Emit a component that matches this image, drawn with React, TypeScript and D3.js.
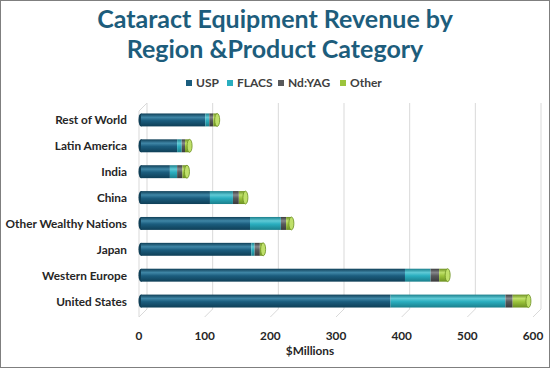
import React from 'react';
import * as d3 from 'd3';

const regions = ['Rest of World', 'Latin America', 'India', 'China', 'Other Wealthy Nations', 'Japan', 'Western Europe', 'United States'];
const seriesNames = ['USP', 'FLACS', 'Nd:YAG', 'Other'];
const usp = [98, 55, 44, 105, 166, 168, 402, 380];
const flacs = [6, 7, 11, 35, 47, 5, 39, 175];
const ndyag = [6, 5, 8, 9, 8, 8, 13, 11];
const other = [6, 7, 7, 10, 8, 5, 13, 24];
const xTicks = [0, 100, 200, 300, 400, 500, 600];

const colors = ['#1b5d7e', '#2aaebf', '#58595b', '#9cc43c'];
const lightColors = ['#3f86a6', '#5fcad6', '#85868a', '#bfe06a'];
const darkColors = ['#0f3f57', '#1b7f8c', '#3a3b3d', '#6c8f22'];

const W = 550;
const H = 368;
const DEPTH = 8;
const font = 'Lato, "Open Sans", sans-serif';

export default function App() {
  const values = [usp, flacs, ndyag, other];
  const x = d3.scaleLinear().domain([0, 600]).range([139, 533]);
  const y = d3.scaleBand().domain(regions).range([107, 314]).paddingInner(0.5).paddingOuter(0.25);
  const barShift = 2;
  const wallTop = 103;
  const floorBack = 309;
  const floorFront = 317;

  const stack = d3.stack<number>().keys([0, 1, 2, 3] as any).value((i, k) => values[k as any][i]);
  const stacked = stack(d3.range(regions.length));

  return (
    <svg width={W} height={H} style={{ position: 'absolute', left: 0, top: 0, display: 'block' }}>
      <defs>
        {colors.map((c, i) => (
          <linearGradient key={i} id={'g' + i} x1="0" y1="0" x2="0" y2="1">
            <stop offset="0" stopColor={darkColors[i]} />
            <stop offset="0.3" stopColor={lightColors[i]} />
            <stop offset="0.55" stopColor={c} />
            <stop offset="1" stopColor={darkColors[i]} />
          </linearGradient>
        ))}
      </defs>
      <rect x={0.5} y={0.5} width={W - 1} height={H - 1} fill="#fff" stroke="#7f7f7f" />

      <text x={W / 2} y={28} textAnchor="middle" fontFamily={font} fontWeight="bold" fontSize={25} fill="#1d5d7c">
        Cataract Equipment Revenue by
      </text>
      <text x={W / 2} y={58} textAnchor="middle" fontFamily={font} fontWeight="bold" fontSize={25} fill="#1d5d7c">
        Region &amp;Product Category
      </text>

      {/* legend */}
      {seriesNames.map((s, i) => {
        const lx = [186, 227, 278, 340][i];
        return (
          <g key={s}>
            <rect x={lx} y={80} width={6} height={6} fill={colors[i]} />
            <text x={lx + 10} y={87} fontFamily={font} fontWeight="bold" fontSize={12} fill="#404040">{s}</text>
          </g>
        );
      })}

      {/* 3D walls */}
      <g stroke="#d9d9d9" strokeWidth={1} fill="none">
        <line x1={x(0)} y1={wallTop + DEPTH} x2={x(0)} y2={floorFront} />
        <line x1={x(0)} y1={wallTop + DEPTH} x2={x(0) + DEPTH} y2={wallTop} />
        {xTicks.map(t => (
          <g key={t}>
            <line x1={x(t) + DEPTH} y1={wallTop} x2={x(t) + DEPTH} y2={floorBack} />
            <line x1={x(t) + DEPTH} y1={floorBack} x2={x(t)} y2={floorFront} />
          </g>
        ))}
      </g>

      {/* bars */}
      {regions.map((r, ri) => {
        const by = y(r)!;
        const bh = y.bandwidth();
        const total = stacked[3][ri][1];
        const endX = x(total) + barShift;
        return (
          <g key={r}>
            <ellipse cx={x(0) + barShift} cy={by + bh / 2} rx={2.5} ry={bh / 2} fill={darkColors[0]} />
            {stacked.map((layer, si) => {
              const x0 = x(layer[ri][0]) + barShift;
              const x1 = x(layer[ri][1]) + barShift;
              return <rect key={si} x={x0} y={by} width={Math.max(0, x1 - x0)} height={bh} fill={`url(#g${si})`} />;
            })}
            <ellipse cx={endX} cy={by + bh / 2} rx={2.5} ry={bh / 2} fill={lightColors[3]} stroke={darkColors[3]} strokeWidth={0.8} />
          </g>
        );
      })}

      {/* y labels */}
      {regions.map(r => (
        <text key={r} x={127} y={y(r)! + y.bandwidth() / 2 + 4.5} textAnchor="end" fontFamily={font} fontWeight="bold" fontSize={11.8} fill="#262626">
          {r}
        </text>
      ))}

      {/* x tick labels */}
      {xTicks.map(t => (
        <text key={t} x={x(t)} y={340} textAnchor="middle" fontFamily={font} fontWeight="bold" fontSize={11.8} fill="#262626">
          {t}
        </text>
      ))}
      <text x={310} y={355} textAnchor="middle" fontFamily={font} fontWeight="bold" fontSize={11.8} fill="#262626">
        $Millions
      </text>
    </svg>
  );
}
